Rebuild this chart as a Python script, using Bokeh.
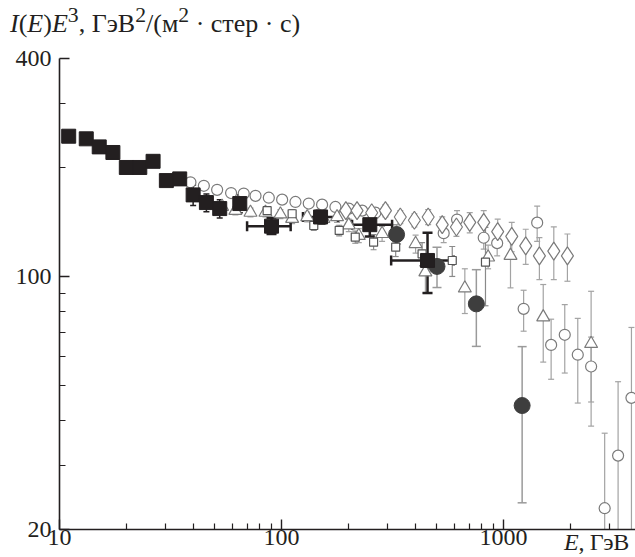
from bokeh.plotting import figure
from bokeh.layouts import column
from bokeh.models import ColumnDataSource, Whisker, TeeHead, FixedTicker, BasicTickFormatter, Div
from bokeh.embed import file_html
from bokeh.resources import INLINE

# ---------------- data (E in GeV, I(E)E^3) ----------------
# filled squares (low energy)
sq_e = [11.0, 13.2, 15.1, 17.4, 20.0, 23.0, 26.4, 30.3, 34.8, 40.0, 45.9, 52.7, 64.9]
sq_i = [244, 240, 228, 220, 200, 200, 208, 184, 186, 168, 160, 154, 159]
sq_err_e = [40.0, 45.9, 52.7, 64.9]
sq_err_lo = [157, 151, 145, 150]
sq_err_hi = [179, 169, 163, 168]

# filled squares with energy bins
sb_e = [90.2, 150, 250, 455]
sb_i = [137.7, 146, 139, 110.7]
sb_elo = [70, 125, 208, 312]
sb_ehi = [110, 180, 315, 597]
sb_ilo = [131, 140, 129, 90]
sb_ihi = [145, 152, 152.5, 132]

# filled dark circles
fc_e = [330, 502, 755, 1214]
fc_i = [130.6, 106.6, 84.0, 44.0]
fc_lo = [123, 93.2, 64.1, 23.7]
fc_hi = [139, 120.5, 104.4, 64.0]

# open circles
oc_e = [38.9, 44.7, 51.3, 59.3, 67.6, 76.4, 87.7, 100.7, 115.6, 132.7, 152.4, 175, 201, 231, 265,
        538, 618, 815, 937, 1233, 1419, 1640, 1889, 2162, 2483, 2858, 3285, 3773]
oc_i = [182, 178, 173.5, 170, 169.4, 167, 165, 163, 160.6, 159, 157.9, 155.6, 154, 152, 150,
        131.7, 143.6, 127.9, 123.6, 81.4, 140.8, 64.7, 69.0, 60.8, 56.4, 22.9, 32.0, 46.2]
oc_lo = [178, 174, 169.5, 166, 165.5, 163, 161, 159, 156.5, 155, 153.5, 151, 149.5, 147.5, 145,
         124, 135, 119, 114, 70.6, 125, 52.0, 54.1, 44.7, 45, 15, 15, 15]
oc_hi = [186, 182, 177.5, 174, 173.5, 171, 169, 167, 165, 163, 162.5, 160, 158.5, 156.5, 155,
         140, 152, 137, 133, 91.6, 156.5, 76.2, 83.6, 76.6, 68, 36.9, 51.2, 72.3]

# open triangles
tr_e = [47, 54, 62, 72.5, 84.7, 98.9, 111.7, 130.6, 154.5, 178, 201, 223, 284, 402, 445,
        670, 853, 1076, 1511, 2483]
tr_i = [160, 156, 152, 150.2, 150.2, 148.6, 144.5, 146, 144.5, 146, 138.6, 129.6, 131.2, 123.1, 102.8,
        92.8, 113, 114.2, 77.2, 65.2]
tr_lo = [156, 152, 148, 146, 146, 144.5, 140, 141.5, 140, 141, 133, 124, 125, 116, 90,
         79, 105, 93, 58, 38.6]
tr_hi = [164, 160, 156, 154.5, 154.5, 153, 149, 150.5, 149, 151, 144, 135.5, 137.5, 130, 115,
         105, 122, 125.3, 95, 91]

# open small squares
os_e = [86.2, 111.7, 139.8, 182, 215, 260, 327, 430, 588, 830]
os_i = [152, 149, 138.3, 134, 128.4, 124.4, 120.5, 115.5, 110.7, 109.5]
os_lo = [148, 145, 134, 129.5, 123.5, 118.5, 113.5, 107, 100, 83]
os_hi = [156, 153, 142.5, 138.5, 133.5, 130.5, 127.5, 124, 121, 136.6]

# open diamonds
dm_e = [195, 219, 255, 294, 343, 397, 458, 530, 614, 705, 815, 942, 1090, 1260, 1452, 1686, 1942]
dm_i = [152, 152, 150, 152, 146, 143, 146, 139, 137, 141, 141, 133, 129, 121.5, 114, 117.5, 114]
dm_lo = [147, 147, 145, 146, 140, 137, 139, 132, 129, 132, 130, 122, 117, 108, 98, 98, 97]
dm_hi = [157, 157, 155, 158, 152, 149, 153, 146, 145, 150, 152, 144, 141, 135, 128, 137, 131]

x_major = [10, 100, 1000]
x_minor = [20, 30, 40, 50, 60, 70, 80, 90, 200, 300, 400, 500, 600, 700, 800, 900, 2000, 3000]
y_major = [20, 100, 400]
y_minor = [30, 40, 50, 60, 70, 80, 90, 200, 300]

# ---------------- layout ----------------
INK = "#231f20"
GREY = "#7a7a7a"
BAR = "#a3a3a3"
FONT = "Liberation Serif"

title = Div(
    text=("<i>I</i>(<i>E</i>)<i>E</i><sup>3</sup>, ГэВ<sup>2</sup>/(м<sup>2</sup>&nbsp;·&nbsp;стер&nbsp;·&nbsp;с)"),
    width=635, height=40, margin=(0, 0, 0, 0),
    styles={"font-family": FONT, "font-size": "26px", "color": INK,
            "padding-left": "10px", "padding-top": "0px", "line-height": "30px",
            "white-space": "nowrap"})

p = figure(width=635, height=517, x_axis_type="log", y_axis_type="log",
           x_range=(10, 3935), y_range=(20, 400),
           output_backend="svg", toolbar_location=None,
           min_border_left=59, min_border_right=0, min_border_top=18, min_border_bottom=28)
p.outline_line_color = None
p.grid.visible = False
p.background_fill_color = "white"
p.border_fill_color = "white"

for ax, maj, mnr in ((p.xaxis[0], x_major, x_minor), (p.yaxis[0], y_major, y_minor)):
    ax.ticker = FixedTicker(ticks=maj, minor_ticks=mnr)
    ax.formatter = BasicTickFormatter()
    ax.major_label_overrides = {v: str(v) for v in maj}
    ax.axis_line_color = INK
    ax.axis_line_width = 1.6
    ax.major_tick_line_color = INK
    ax.minor_tick_line_color = INK
    ax.major_tick_line_width = 1.4
    ax.minor_tick_line_width = 1.2
    ax.major_tick_in = 10
    ax.major_tick_out = 0
    ax.minor_tick_in = 6
    ax.minor_tick_out = 0
    ax.major_label_text_font = FONT
    ax.major_label_text_font_size = "24px"
    ax.major_label_text_color = INK
p.xaxis.major_label_standoff = 0
p.yaxis.major_label_standoff = 8


def vbars(e, lo, hi, color, width=1.2, cap=6):
    src = ColumnDataSource(dict(e=e, lo=lo, hi=hi))
    w = Whisker(source=src, base="e", lower="lo", upper="hi", dimension="height",
                line_color=color, line_width=width, level="underlay",
                upper_head=TeeHead(size=cap, line_color=color, line_width=width),
                lower_head=TeeHead(size=cap, line_color=color, line_width=width))
    p.add_layout(w)


# open series error bars
vbars(oc_e, oc_lo, oc_hi, BAR)
vbars(tr_e, tr_lo, tr_hi, BAR)
vbars(os_e, os_lo, os_hi, "#8a8a8a")
vbars(dm_e, dm_lo, dm_hi, BAR)

# open markers
p.scatter(oc_e, oc_i, marker="circle", size=11, fill_color="white", line_color=GREY, line_width=1.2)
p.scatter(dm_e, dm_i, marker="diamond", size=18, fill_color="white", line_color=GREY, line_width=1.2)
p.scatter(tr_e, tr_i, marker="triangle", size=13, fill_color="white", line_color=GREY, line_width=1.2)
p.scatter(os_e, os_i, marker="square", size=8, fill_color="white", line_color="#555555", line_width=1.2)

# filled circles
vbars(fc_e, fc_lo, fc_hi, "#9a9a9a", width=1.5, cap=9)
p.scatter(fc_e, fc_i, marker="circle", size=16, fill_color="#3e3e3e", line_color="#3e3e3e")

# filled squares
vbars(sq_err_e, sq_err_lo, sq_err_hi, INK, width=1.5, cap=6)
p.scatter(sq_e, sq_i, marker="square", size=14, fill_color=INK, line_color=INK)

sb_src = ColumnDataSource(dict(e=sb_e, i=sb_i, elo=sb_elo, ehi=sb_ehi, ilo=sb_ilo, ihi=sb_ihi))
p.add_layout(Whisker(source=sb_src, base="i", lower="elo", upper="ehi", dimension="width",
                     line_color=INK, line_width=2.5,
                     upper_head=TeeHead(size=10, line_color=INK, line_width=2.5),
                     lower_head=TeeHead(size=10, line_color=INK, line_width=2.5)))
p.add_layout(Whisker(source=sb_src, base="e", lower="ilo", upper="ihi", dimension="height",
                     line_color=INK, line_width=2.5,
                     upper_head=TeeHead(size=10, line_color=INK, line_width=2.5),
                     lower_head=TeeHead(size=10, line_color=INK, line_width=2.5)))
p.scatter("e", "i", source=sb_src, marker="square", size=14, fill_color=INK, line_color=INK)

# x axis title, laid over the right end of the tick-label row
xlab = Div(
    text=('<span style="position:relative; display:inline-block; left:564px; top:-32px; '
          'white-space:nowrap; line-height:24px; letter-spacing:-0.3px;"><i>E</i>, ГэВ</span>'),
    width=635, height=0, margin=(0, 0, 0, 0),
    styles={"font-family": FONT, "font-size": "24px", "color": INK, "overflow": "visible"})

open("out.html", "w").write(file_html(column(title, p, xlab, spacing=0), INLINE))
